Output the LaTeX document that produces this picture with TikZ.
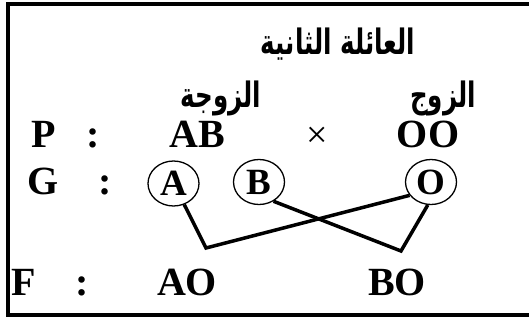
\documentclass[tikz,border=0pt]{standalone}
\usepackage{fontspec}
\setmainfont{Liberation Serif}
\newfontfamily\arabicfont[Script=Arabic,FakeStretch=0.7]{DejaVu Sans}
\TeXXeTstate=1
\usetikzlibrary{shapes.geometric}
\begin{document}
\begin{tikzpicture}[x=1pt,y=-1pt,
  lbl/.style={inner sep=0pt,anchor=base,font=\fontsize{40}{40}\selectfont\bfseries},
  ar/.style={inner sep=0pt,anchor=center,font=\fontsize{35}{35}\selectfont\arabicfont\bfseries},
  gamete/.style={ellipse,draw,line width=1.3pt,minimum width=51pt,minimum height=45pt,inner sep=0pt,
    font=\fontsize{37}{37}\selectfont\bfseries},
  link/.style={line width=3.5pt,line join=miter}]
\useasboundingbox (0,0) rectangle (529,320);
\fill[white] (0,0) rectangle (529,320);
% outer frame (right side runs past the page edge)
\draw[line width=4pt] (540,4) -- (8,4) -- (8,315) -- (540,315);
% headings
\node[ar] (title) at (338,44) {\beginR العائلة الثانية\endR};
\node[ar] (wife) at (221,98) {\beginR الزوجة\endR};
\node[ar] (husband) at (443,98) {\beginR الزوج\endR};
% parents
\node[lbl,anchor=base west] (P) at (31,148) {P};
\node[lbl] (pc) at (93.5,148) {:};
\node[lbl] (AB) at (197,148) {AB};
\node[inner sep=0pt,font=\fontsize{38}{38}\selectfont] (cross) at (317,137) {×};
\node[lbl] (OO) at (428,148) {OO};
% gametes
\node[lbl,anchor=base west] (G) at (27,195) {G};
\node[lbl] (gc) at (105,195) {:};
\node[gamete] (ga) at (173.5,183.5) {A};
\node[gamete] (gb) at (259,182) {B};
\node[gamete] (go) at (431,182) {O};
% offspring
\node[lbl,anchor=base west] (F) at (11,295) {F};
\node[lbl] (fc) at (82.5,295) {:};
\node[lbl] (AO) at (187,295) {AO};
\node[lbl] (BO) at (397,295) {BO};
% crossing links
\coordinate (k1) at (206,248);
\coordinate (k2) at (401,251);
\draw[link] (ga.-63) -- (k1) -- (go.212);
\draw[link] (gb.-53) -- (k2) -- (go.-98);
\end{tikzpicture}
\end{document}
